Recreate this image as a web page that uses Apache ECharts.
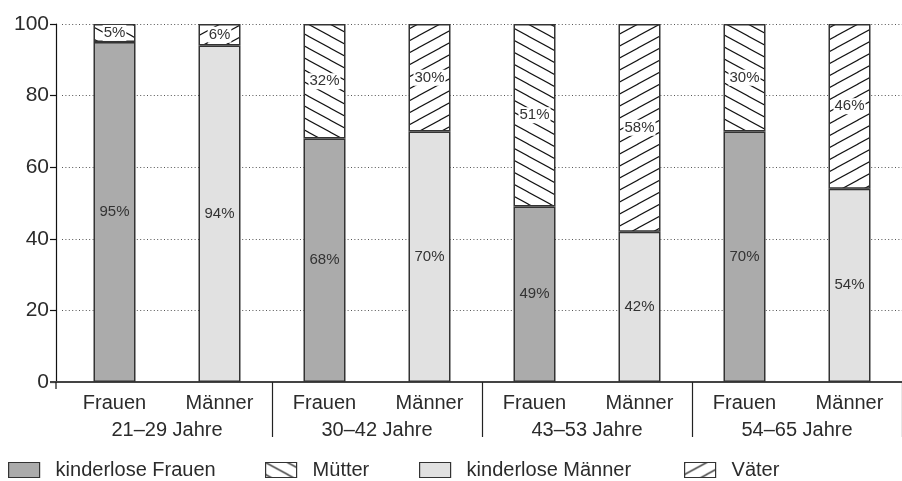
<!DOCTYPE html>
<html>
<head>
<meta charset="utf-8">
<script src="https://cdn.jsdelivr.net/npm/echarts@6/dist/echarts.min.js"></script>
<style>
  html, body { margin: 0; padding: 0; background: #fff; }
  #chart { width: 902px; height: 481px; }
</style>
</head>
<body>
<div id="chart"></div>
<script>
// Age groups and the two bars shown in each group
const ageGroups = ['21–29 Jahre', '30–42 Jahre', '43–53 Jahre', '54–65 Jahre'];
const sexLabels = ['Frauen', 'Männer'];

// Shares in percent per age group
const childlessWomen = [95, 68, 49, 70];
const mothers        = [5, 32, 51, 30];
const childlessMen   = [94, 70, 42, 54];
const fathers        = [6, 30, 58, 46];

const yTicks = [0, 20, 40, 60, 80, 100];

const FONT = '"Liberation Sans", Arial, sans-serif';
const TEXT = '#2b2b2b';

// Layout of the plot area
const GRID_LEFT = 62, GRID_TOP = 24, GRID_W = 848, GRID_H = 358;
const Y_AXIS_OFFSET = 6;

// Hatch pattern tiles: "\" for mothers, "/" for fathers
function hatch(dir) {
  const w = 22, h = 12;
  const c = document.createElement('canvas');
  c.width = w; c.height = h;
  const g = c.getContext('2d');
  g.fillStyle = '#fff';
  g.fillRect(0, 0, w, h);
  g.strokeStyle = '#111';
  g.lineWidth = 1.1;
  for (const off of [-h, 0, h]) {
    g.beginPath();
    if (dir === 'back') { g.moveTo(-w, -h + off); g.lineTo(2 * w, 2 * h + off); }
    else { g.moveTo(-w, 2 * h + off); g.lineTo(2 * w, -h + off); }
    g.stroke();
  }
  return { image: c, repeat: 'repeat' };
}

// One category per bar: women then men inside each age group
const categories = [];
ageGroups.forEach(g => sexLabels.forEach(s => categories.push(g + '|' + s)));

// Spread the per-group values onto the bar slots
function onSlot(values, slot) {
  const out = [];
  values.forEach(v => { for (let k = 0; k < 2; k++) out.push(k === slot ? v : '-'); });
  return out;
}

const labelBase = {
  show: true,
  position: 'inside',
  color: '#333',
  fontSize: 15,
  fontFamily: FONT,
  formatter: p => p.value + '%'
};
const hatchLabel = Object.assign({}, labelBase, { backgroundColor: '#fff', padding: [1, 1, 0, 1] });
const border = { borderColor: '#333', borderWidth: 1.5 };

function series(name, values, slot, color, label) {
  return {
    name, type: 'bar', stack: 'total', barWidth: 42,
    data: onSlot(values, slot),
    itemStyle: Object.assign({ color }, border),
    label,
    emphasis: { disabled: true }
  };
}

const legendBase = {
  top: 460, padding: 0, itemWidth: 31, itemHeight: 15, icon: 'rect',
  textStyle: { fontSize: 20, fontFamily: FONT, color: TEXT, padding: [0, 0, 0, 11] },
  itemStyle: { borderColor: '#333', borderWidth: 1.2 },
  selectedMode: false
};

const chart = echarts.init(document.getElementById('chart'), null, { renderer: 'canvas' });
chart.setOption({
  animation: false,
  grid: { left: GRID_LEFT, top: GRID_TOP, width: GRID_W, height: GRID_H, containLabel: false },
  legend: [
    Object.assign({ left: 8, data: ['kinderlose Frauen'] }, legendBase),
    Object.assign({ left: 265, data: ['Mütter'] }, legendBase),
    Object.assign({ left: 419, data: ['kinderlose Männer'] }, legendBase),
    Object.assign({ left: 684, data: ['Väter'] }, legendBase)
  ],
  xAxis: [
    {
      type: 'category', data: categories, position: 'bottom',
      axisLine: { lineStyle: { color: '#444', width: 2 } },
      axisTick: { show: false },
      axisLabel: {
        margin: 11, fontSize: 20, fontFamily: FONT, color: TEXT,
        formatter: v => v.split('|')[1], interval: 0
      }
    },
    {
      type: 'category', data: ageGroups, position: 'bottom', offset: 0,
      axisLine: { show: false },
      axisTick: { show: true, length: 55, interval: i => i > 0 && i < ageGroups.length, lineStyle: { color: '#222', width: 1.2 } },
      axisLabel: { margin: 38, fontSize: 20, fontFamily: FONT, color: TEXT, interval: 0 }
    }
  ],
  yAxis: {
    type: 'value', min: yTicks[0], max: yTicks[yTicks.length - 1], interval: 20,
    offset: Y_AXIS_OFFSET,
    axisLine: { show: true, lineStyle: { color: '#111', width: 1.2 } },
    axisTick: { show: true, length: 6, lineStyle: { color: '#111', width: 1.2 } },
    axisLabel: { margin: 7, fontSize: 21, fontFamily: FONT, color: TEXT },
    splitLine: { show: true, lineStyle: { color: '#555', type: [1, 2.4], width: 1 } }
  },
  series: [
    series('kinderlose Frauen', childlessWomen, 0, '#ababab', labelBase),
    series('Mütter', mothers, 0, hatch('back'), hatchLabel),
    series('kinderlose Männer', childlessMen, 1, '#e1e1e1', labelBase),
    series('Väter', fathers, 1, hatch('fwd'), hatchLabel)
  ]
});

// Join the offset value axis to the baseline and let it run a little below it
const yZero = chart.convertToPixel({ yAxisIndex: 0 }, 0);
const yAxisX = GRID_LEFT - Y_AXIS_OFFSET;
chart.setOption({
  graphic: [
    { type: 'line', shape: { x1: yAxisX - 6, y1: yZero, x2: GRID_LEFT, y2: yZero },
      style: { stroke: '#444', lineWidth: 2 }, z: 10 },
    { type: 'line', shape: { x1: yAxisX, y1: yZero, x2: yAxisX, y2: yZero + 7 },
      style: { stroke: '#111', lineWidth: 1.2 }, z: 10 }
  ]
});
</script>
</body>
</html>
